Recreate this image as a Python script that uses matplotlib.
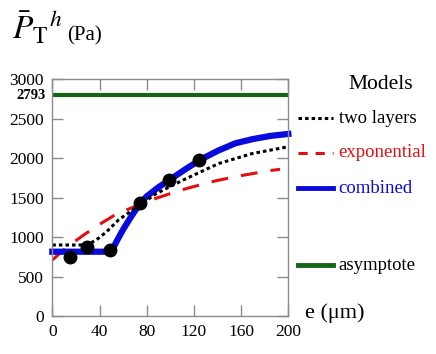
import matplotlib.pyplot as plt
import matplotlib.transforms as mtransforms

plt.rcParams['font.family'] = ['Liberation Serif', 'DejaVu Serif']
plt.rcParams['mathtext.fontset'] = 'stix'

# measured points
e_meas = [15, 29, 49, 74, 99, 124]
p_meas = [750, 877, 835, 1434, 1720, 1975]

# model curves
e_two = [0, 30, 39, 46, 56, 65, 75, 87, 96, 110, 120, 141, 169, 200]
p_two = [899, 899, 983, 1067, 1215, 1310, 1410, 1540, 1610, 1715, 1785, 1930, 2055, 2143]

e_exp = [0, 13, 27, 40, 52, 64, 84, 101, 114, 138, 158, 184, 193]
p_exp = [709, 880, 1030, 1160, 1270, 1350, 1470, 1555, 1615, 1710, 1772, 1840, 1857]

e_comb = [0, 50, 55, 60, 65, 70, 75, 80, 90, 100, 112, 125, 140, 155, 170, 185, 200]
p_comb = [814, 814, 960, 1095, 1215, 1330, 1435, 1515, 1630, 1730, 1850, 1975, 2090, 2186, 2240, 2280, 2305]

asymptote = 2793

yticks = [0, 500, 1000, 1500, 2000, 2500, 3000]
xticks = [0, 40, 80, 120, 160, 200]

blue = '#0a0adc'
red = '#e01010'
green = '#166416'
gray = '#8c8c8c'

fig = plt.figure(figsize=(4.36, 3.54), dpi=100)
ax = fig.add_axes([0.12, 0.1073, 0.5413, 0.6695])

ax.plot([0, 200], [asymptote, asymptote], color=green, lw=3, solid_capstyle='projecting')
ax.plot(e_exp, p_exp, color=red, lw=2.2, dashes=(5.5, 4.3))
ax.plot(e_comb, p_comb, color=blue, lw=4.5, solid_capstyle='projecting', clip_on=False)
ax.plot(e_two, p_two, color='black', lw=2.2, dashes=(1.15, 1.0))
ax.plot(e_meas, p_meas, 'o', color='black', ms=9, clip_on=False, zorder=5)

ax.set_xlim(0, 200)
ax.set_ylim(0, 3000)
ax.set_xticks(xticks)
ax.set_yticks(yticks)
ax.tick_params(direction='in', length=8, width=1, color=gray, labelsize=12.5,
               top=True, right=True, pad=6)
for s in ax.spines.values():
    s.set_color(gray)
    s.set_linewidth(1)

trans = mtransforms.blended_transform_factory(ax.transAxes, ax.transData)
ax.text(-0.03, asymptote, '2793', transform=trans, ha='right', va='center',
        fontsize=10.5, fontweight='bold')

# title and axis label
fig.text(12 / 436, 1 - 39 / 354, r'$\bar{P}_{\mathrm{T}}{}^{h}$', fontsize=24,
         ha='left', va='baseline')
fig.text(67 / 436, 1 - 40 / 354, '(Pa)', fontsize=15, ha='left', va='baseline')
fig.text(305 / 436, 1 - 313 / 354, 'e (\u03bcm)', fontsize=16, ha='left', va='center')

# legend drawn by hand
ax.text(1.39, 0.975, 'Models', transform=ax.transAxes, fontsize=15.5,
        ha='center', va='center')
entries = [
    (0.835, 'two layers', dict(color='black', lw=2.2, dashes=(1.15, 1.0)), 'black'),
    (0.688, 'exponential', dict(color=red, lw=2.2, dashes=(3.0, 2.6)), red),
    (0.540, 'combined', dict(color=blue, lw=3.5), blue),
    (0.215, 'asymptote', dict(color=green, lw=3.5), 'black'),
]
for y, label, style, tc in entries:
    ax.plot([1.041, 1.189], [y, y], transform=ax.transAxes, clip_on=False, **style)
    ax.text(1.213, y, label, transform=ax.transAxes, fontsize=13.5, color=tc,
            ha='left', va='center')

fig.savefig('out.png', dpi=100)
